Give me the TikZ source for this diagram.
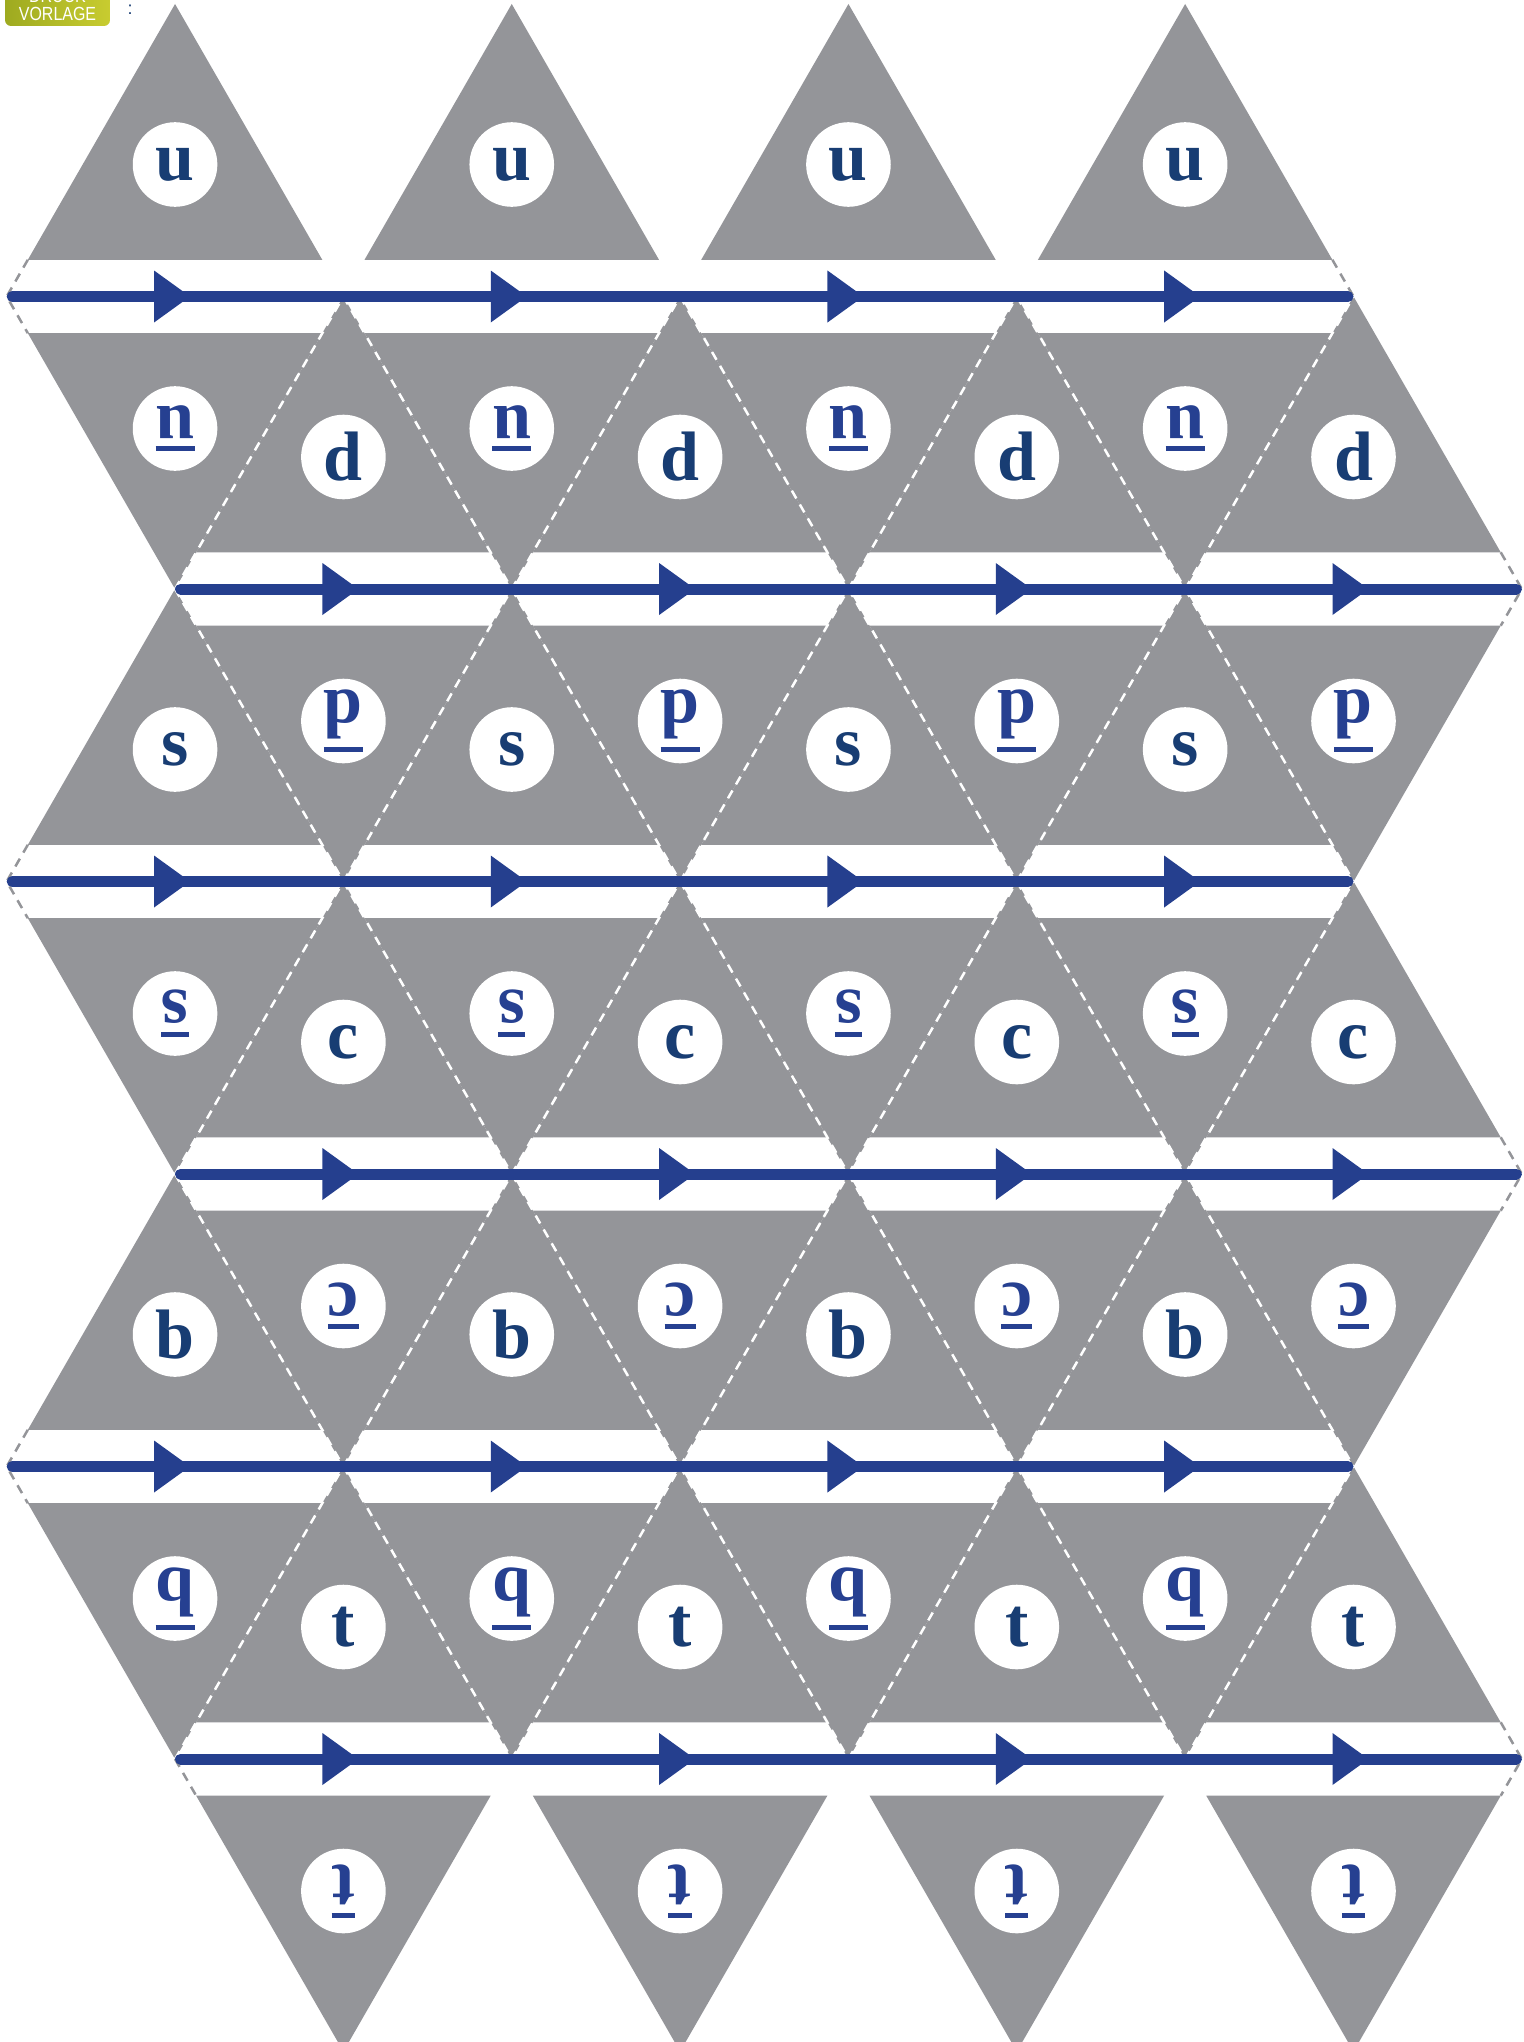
\documentclass[tikz,border=0pt]{standalone}
\usepackage{fontspec}
\setmainfont{Liberation Serif}
\newfontfamily\badgefont{Liberation Sans}
\usepackage{graphicx}
\definecolor{tri}{RGB}{148,149,153}
\definecolor{lineblue}{RGB}{37,63,142}
\definecolor{darkletter}{RGB}{24,61,115}
\definecolor{flipletter}{RGB}{38,64,145}
\definecolor{olivel}{RGB}{158,170,32}
\definecolor{oliver}{RGB}{200,204,48}
\newcommand\flipL[1]{\vbox{\offinterlineskip\halign{##\cr\rotatebox[origin=c]{180}{#1}\cr\noalign{\kern8pt\hrule height5pt}}}}
\newcommand\mytri[6]{%
  \fill[tri] (#2,#3) -- ({#2-147.23},{#3+#4*255.8}) -- ({#2+147.23},{#3+#4*255.8}) -- cycle;
  \node[circ,text=#6] (#1) at (#2,{#3+#4*160.5}) {#5};
}
\tikzset{
  circ/.style={circle,fill=white,minimum size=84.6pt,inner sep=0pt,
    font=\bfseries\fontsize{70}{70}\selectfont},
  wdash/.style={white,line width=2.5pt,dash pattern=on 9pt off 7pt},
  gdash/.style={tri,line width=2.5pt,dash pattern=on 9pt off 7pt},
  blueline/.style={lineblue,line width=11pt,line cap=round},
  arrowhead/.style={fill=lineblue},
  badgetext/.style={text=white,font=\badgefont\fontsize{19}{19}\selectfont,xscale=0.84,anchor=base,inner sep=0pt}
}
\begin{document}
\begin{tikzpicture}[x=1pt,y=-1pt]
\useasboundingbox (0,0) rectangle (1523,2042);
\clip (0,0) rectangle (1523,2042);
\fill[white] (0,0) rectangle (1523,2042);
% ---------- triangles with labels ----------
\foreach \i in {0,...,3}{
  \pgfmathsetmacro\xe{175.05+\i*336.7}
  \pgfmathsetmacro\xo{6.7+(\i+1)*336.7}
  % row 0
  \mytri{u\i}{\xe}{4}{1}{u}{darkletter}
  % row 1
  \mytri{nf\i}{\xe}{589}{-1}{\flipL{u}}{flipletter}
  \mytri{d\i}{\xo}{296.5}{1}{d}{darkletter}
  % row 2
  \mytri{s\i}{\xe}{589}{1}{s}{darkletter}
  \mytri{df\i}{\xo}{881.5}{-1}{\flipL{d}}{flipletter}
  % row 3
  \mytri{sf\i}{\xe}{1174}{-1}{\flipL{s}}{flipletter}
  \mytri{c\i}{\xo}{881.5}{1}{c}{darkletter}
  % row 4
  \mytri{b\i}{\xe}{1174}{1}{b}{darkletter}
  \mytri{cf\i}{\xo}{1466.5}{-1}{\flipL{c}}{flipletter}
  % row 5
  \mytri{bf\i}{\xe}{1759}{-1}{\flipL{b}}{flipletter}
  \mytri{t\i}{\xo}{1466.5}{1}{t}{darkletter}
  % row 6
  \mytri{tf\i}{\xo}{2051.5}{-1}{\flipL{t}}{flipletter}
}
% ---------- interior fold lines (white dashed) ----------
\foreach \yo/\ye in {296.5/589, 881.5/589, 881.5/1174, 1466.5/1174, 1466.5/1759}{
  \foreach \i in {0,...,3}{
    \pgfmathsetmacro\xa{175.05+\i*336.7}
    \pgfmathsetmacro\xb{6.7+(\i+1)*336.7}
    \draw[wdash] (\xa,\ye) -- (\xb,\yo);
  }
  \foreach \i in {1,...,3}{
    \pgfmathsetmacro\xa{6.7+\i*336.7}
    \pgfmathsetmacro\xb{175.05+\i*336.7}
    \draw[wdash] (\xa,\yo) -- (\xb,\ye);
  }
}
% ---------- outer edges inside the bands (grey dashed) ----------
\foreach \y in {296.5,881.5,1466.5}{
  \draw[gdash] (27.82,{\y-36.7}) -- (6.7,\y) -- (27.82,{\y+36.7});
}
\foreach \y in {589,1174,1759}{
  \draw[gdash] (1500.73,{\y-36.7}) -- (1521.85,\y) -- (1500.73,{\y+36.7});
}
\draw[gdash] (1332.38,259.8) -- (1353.5,296.5);
\draw[gdash] (175.05,1759) -- (196.17,1795.7);
% ---------- blue lines with arrows ----------
\foreach \k/\xs in {1/6.7,2/175.05,3/6.7,4/175.05,5/6.7,6/175.05}{
  \pgfmathsetmacro\yy{4+\k*292.5}
  \draw[blueline] ({\xs+5.5},\yy) -- ({\xs+4*336.7-5.5},\yy);
  \foreach \i in {0,...,3}{
    \pgfmathsetmacro\m{\xs+(\i+0.5)*336.7}
    \fill[arrowhead] ({\m-21},{\yy-26}) -- ({\m+15},\yy) -- ({\m-21},{\yy+26}) -- cycle;
  }
}
% ---------- badge ----------
\shade[left color=olivel,right color=oliver,rounded corners=6pt] (5,-20) rectangle (110,26);
\node[badgetext] (druck) at (57.5,2.5) {DRUCK};
\node[badgetext] (vorlage) at (57.5,20.7) {VORLAGE};
\node[text=darkletter,font=\badgefont\fontsize{18}{18}\selectfont,anchor=base,inner sep=0pt] (colon) at (130,15) {:};
\end{tikzpicture}
\end{document}
